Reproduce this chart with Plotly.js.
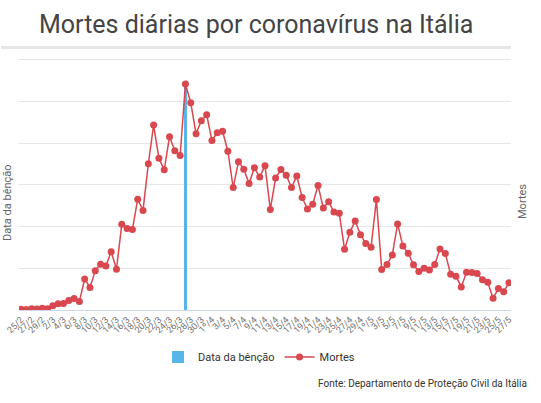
<!DOCTYPE html>
<html>
<head>
<meta charset="utf-8">
<script src="https://cdn.plot.ly/plotly-3.0.1.min.js"></script>
<style>html,body{margin:0;padding:0;background:#fff;}#chart{width:541px;height:403px;}</style>
</head>
<body>
<div id="chart"></div>
<script>
var dates = ["25/2","26/2","27/2","28/2","29/2",
"1º/3","2/3","3/3","4/3","5/3","6/3","7/3","8/3","9/3","10/3","11/3","12/3","13/3","14/3","15/3","16/3","17/3","18/3","19/3","20/3","21/3","22/3","23/3","24/3","25/3","26/3","27/3","28/3","29/3","30/3","31/3",
"1º/4","2/4","3/4","4/4","5/4","6/4","7/4","8/4","9/4","10/4","11/4","12/4","13/4","14/4","15/4","16/4","17/4","18/4","19/4","20/4","21/4","22/4","23/4","24/4","25/4","26/4","27/4","28/4","29/4","30/4",
"1º/5","2/5","3/5","4/5","5/5","6/5","7/5","8/5","9/5","10/5","11/5","12/5","13/5","14/5","15/5","16/5","17/5","18/5","19/5","20/5","21/5","22/5","23/5","24/5","25/5","26/5","27/5"];

var deaths = [3,2,5,4,8,
5,18,27,28,41,49,36,133,97,168,196,189,250,175,368,349,345,475,427,627,793,651,601,743,683,662,969,889,756,812,837,
727,760,766,681,525,636,604,542,610,570,619,431,566,602,578,525,575,482,433,454,534,437,464,420,415,260,333,382,323,285,
269,474,174,195,236,369,274,243,194,165,179,172,195,262,242,153,145,99,162,161,156,130,119,50,92,78,117];

var blessingDate = ["27/3"];
var blessingValue = [969];

var BLUE = "#57b5e7", RED = "#d9474f";

var traces = [
  {type:"bar", name:"Data da bênção", x:blessingDate, y:blessingValue, width:0.65,
   marker:{color:BLUE, line:{width:0}}, hoverinfo:"x+name"},
  {type:"scatter", mode:"lines+markers", name:"Mortes", x:dates, y:deaths,
   line:{color:RED, width:1.5}, marker:{color:RED, size:7}}
];

var layout = {
  width:541, height:403,
  margin:{l:19, r:30, t:58, b:93},
  paper_bgcolor:"#fff", plot_bgcolor:"#fff",
  font:{family:"Roboto, 'Open Sans', sans-serif", color:"#666"},
  title:{text:"Mortes diárias por coronavírus na Itália", font:{size:25, color:"#444", family:"Roboto"},
         x:0.4735, xanchor:"center", xref:"container", y:0.94, yanchor:"middle", yref:"container"},
  showlegend:true,
  legend:{orientation:"h", x:0.4878, xanchor:"center", y:-0.1865, yanchor:"middle",
          font:{size:11, color:"#333"}, itemwidth:30, tracegroupgap:0},
  xaxis:{type:"category", categoryorder:"array", categoryarray:dates,
         range:[-0.38, 92.38], tickmode:"linear", tick0:0, dtick:2,
         tickangle:-45, tickfont:{size:9, color:"#707070"}, ticks:"",
         showgrid:false, showline:true, linecolor:"#ccd6eb", linewidth:1, zeroline:false, fixedrange:true},
  yaxis:{range:[0,1080.6], tick0:0, dtick:179, showticklabels:false, ticks:"",
         showgrid:true, gridcolor:"#e6e6e6", gridwidth:1, zeroline:false, showline:false, fixedrange:true},
  bargap:0,
  shapes:[{type:"line", xref:"paper", yref:"paper", x0:-0.0366, x1:1.0, y0:1.0417, y1:1.0417,
           line:{color:"#e6e6e6", width:3}}],
  annotations:[
    {text:"Data da bênção", xref:"paper", yref:"paper", x:-0.0224, y:0.4286, textangle:-90,
     showarrow:false, xanchor:"center", yanchor:"middle", font:{size:11, color:"#666"}},
    {text:"Mortes", xref:"paper", yref:"paper", x:1.0244, y:0.4286, textangle:-90,
     showarrow:false, xanchor:"center", yanchor:"middle", font:{size:11, color:"#666"}},
    {text:"Fonte: Departamento de Proteção Civil da Itália", xref:"paper", yref:"paper", x:1.0366, y:-0.2897,
     showarrow:false, xanchor:"right", yanchor:"middle", font:{size:10, color:"#333"}}
  ]
};

Plotly.newPlot("chart", traces, layout, {displayModeBar:false, staticPlot:true});
</script>
</body>
</html>
